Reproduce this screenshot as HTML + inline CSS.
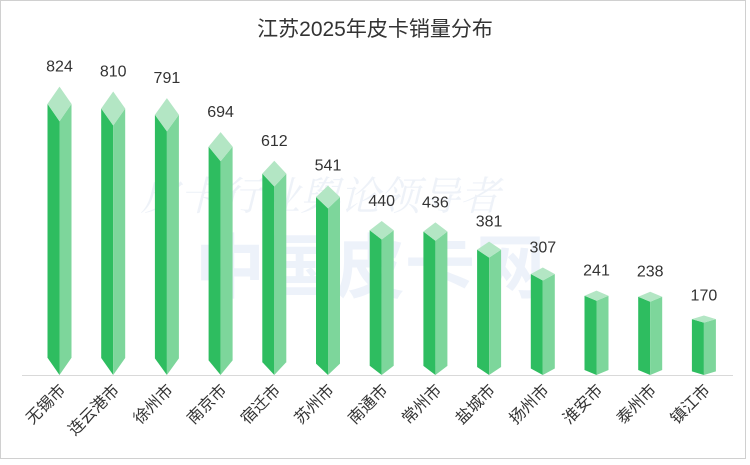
<!DOCTYPE html>
<html><head><meta charset="utf-8"><style>
html,body{margin:0;padding:0;background:#fff;}
body{width:750px;height:460px;overflow:hidden;}
</style></head><body>
<svg width="750" height="460" xmlns="http://www.w3.org/2000/svg" font-family="Liberation Sans, Noto Sans CJK SC, sans-serif">
<rect x="0.5" y="0.5" width="745" height="458" fill="#fff" stroke="#d0d0d0"/>
<text x="375" y="36" text-anchor="middle" font-size="21" fill="#333">江苏2025年皮卡销量分布</text>
<text x="320" y="210" text-anchor="middle" font-size="40" fill="#e3eaf5" font-style="italic" font-family="Noto Serif CJK SC, serif" opacity="0.6">皮卡行业舆论领导者</text>
<text x="370" y="292" text-anchor="middle" font-size="70" font-weight="bold" fill="#e6edf8" opacity="0.7">中国皮卡网</text>
<line x1="22" y1="375.5" x2="733" y2="375.5" stroke="#d9d9d9"/>
<g id="bars"></g>
<g id="lbl" font-size="16" fill="#333" text-anchor="middle"></g>
<g id="xl" font-size="16" fill="#333" text-anchor="end"></g>
</svg>
<script>
var v=[824,810,791,694,612,541,440,436,381,307,241,238,170];
var n=["无锡市","连云港市","徐州市","南京市","宿迁市","苏州市","南通市","常州市","盐城市","扬州市","淮安市","泰州市","镇江市"];
var b="",l="",x="";
for(var i=0;i<v.length;i++){
 var c=59.5+i*53.7,w=12,t=375-v[i]*0.35,d=Math.max(3.5,v[i]*0.021);
 var L=c-w,R=c+w,B=375;
 b+='<polygon points="'+L+','+(t+d)+' '+c+','+(t+2*d)+' '+c+','+B+' '+L+','+(B-d)+'" fill="#2ebd60"/>';
 b+='<polygon points="'+c+','+(t+2*d)+' '+R+','+(t+d)+' '+R+','+(B-d)+' '+c+','+B+'" fill="#7dd69b"/>';
 b+='<polygon points="'+c+','+t+' '+R+','+(t+d)+' '+c+','+(t+2*d)+' '+L+','+(t+d)+'" fill="#b3e6c4"/>';
 l+='<text x="'+c+'" y="'+(t-15)+'">'+v[i]+'</text>';
 x+='<text transform="translate('+(c+7)+',391) rotate(-45)">'+n[i]+'</text>';
}
document.getElementById("bars").innerHTML=b;
document.getElementById("lbl").innerHTML=l;
document.getElementById("xl").innerHTML=x;
</script>
</body></html>
